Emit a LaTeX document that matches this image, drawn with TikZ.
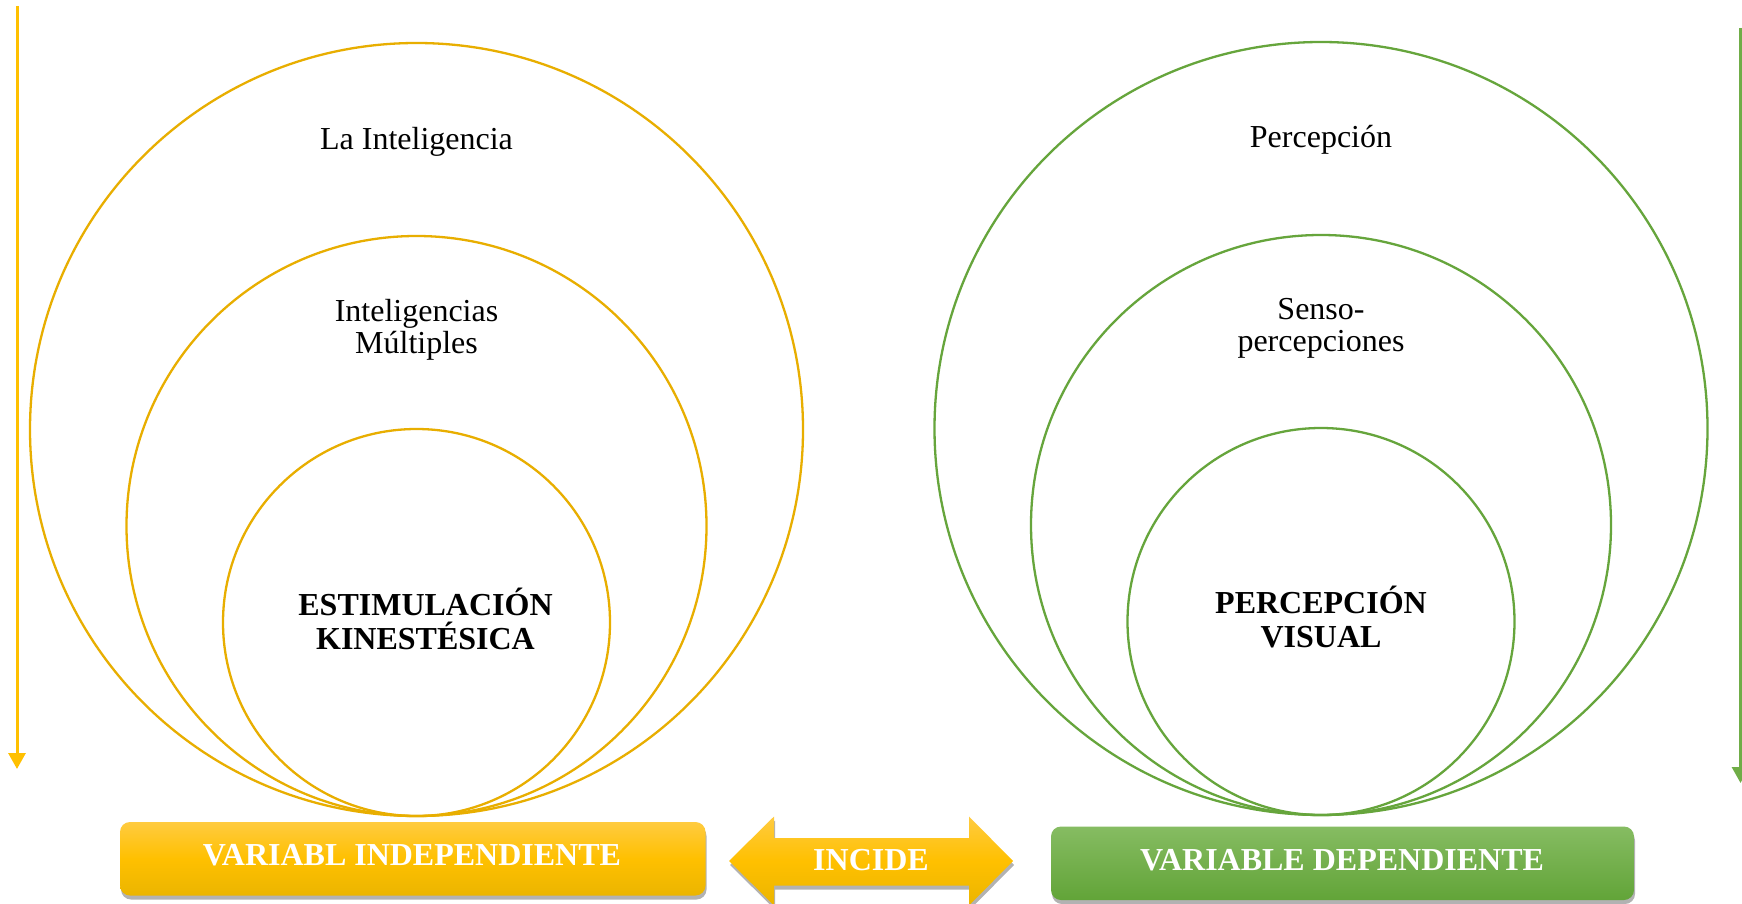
\documentclass[tikz,border=0pt]{standalone}
\usepackage{fontspec}
\setmainfont{Liberation Serif}
\usetikzlibrary{arrows.meta,shadows}
\definecolor{goldline}{HTML}{E8AE00}
\definecolor{greenline}{HTML}{66A53C}
\definecolor{goldarrow}{HTML}{FFC000}
\definecolor{greenarrow}{HTML}{70AD47}
\definecolor{goldtop}{HTML}{FFCB40}
\definecolor{goldmid}{HTML}{FFC000}
\definecolor{goldbot}{HTML}{EBB500}
\definecolor{greentop}{HTML}{86BC62}
\definecolor{greenbot}{HTML}{62A438}
\begin{document}
\begin{tikzpicture}[x=1pt,y=-1pt,
  ring/.style={circle, draw, line width=2.3pt, minimum size=#1, inner sep=0pt},
  lbl/.style={anchor=base, font=\fontsize{32}{33}\selectfont, inner sep=0pt},
  blbl/.style={anchor=base, font=\fontsize{32}{33}\selectfont\bfseries, inner sep=0pt},
  wlbl/.style={anchor=base, font=\fontsize{32}{33}\selectfont\bfseries, text=white, inner sep=0pt},
  shad/.style={drop shadow={opacity=0.3, shadow xshift=1pt, shadow yshift=-4pt, fill=black}},
  side/.style={line width=3pt, -{Triangle[width=17pt,length=16pt]}}
]
\useasboundingbox (0,0) rectangle (1742,904);
\clip (0,0) rectangle (1742,904);
\fill[white] (0,0) rectangle (1742,904);

% side arrows
\coordinate (la1) at (17,6);
\coordinate (la2) at (17,769);
\draw[side, draw=goldarrow, fill=goldarrow] (la1) -- (la2);
\coordinate (ra1) at (1740.5,28);
\coordinate (ra2) at (1740.5,783);
\draw[side, draw=greenarrow, fill=greenarrow] (ra1) -- (ra2);

% left circles
\node[ring=773pt, draw=goldline] (lo) at (416.5,429.5) {};
\node[ring=580pt, draw=goldline] (lm) at (416.5,526) {};
\node[ring=387pt, draw=goldline] (li) at (416.5,622.5) {};
% right circles
\node[ring=773pt, draw=greenline] (ro) at (1321,428.5) {};
\node[ring=580pt, draw=greenline] (rm) at (1321,525) {};
\node[ring=387pt, draw=greenline] (ri) at (1321,621.5) {};

% circle labels
\node[lbl] (t1) at (416.5,150) {La Inteligencia};
\node[lbl] (t2) at (416.5,321) {Inteligencias};
\node[lbl] (t3) at (416.5,353) {Múltiples};
\node[blbl] (t4) at (425.5,615) {ESTIMULACIÓN};
\node[blbl] (t5) at (425.5,649) {KINESTÉSICA};
\node[lbl] (s1) at (1321,148) {Percepción};
\node[lbl] (s2) at (1321,319) {Senso-};
\node[lbl] (s3) at (1321,351) {percepciones};
\node[blbl] (s4) at (1321,613) {PERCEPCIÓN};
\node[blbl] (s5) at (1321,647) {VISUAL};

% bottom boxes
\path[shad, rounded corners=10pt, top color=goldtop, bottom color=goldbot, middle color=goldmid]
  (120,822) rectangle (705.5,895.5);
\node[wlbl] (vi) at (412,865.5) {VARIABL INDEPENDIENTE};

\path[shad, rounded corners=10pt, top color=greentop, bottom color=greenbot]
  (1051,826.5) rectangle (1634,900);
\node[wlbl] (vd) at (1342,870) {VARIABLE DEPENDIENTE};

% double arrow
\path[shad, top color=goldtop, bottom color=goldbot, middle color=goldmid]
  (729,861) -- (774,816.5) -- (774,838) -- (969,838) -- (969,816.5) -- (1013,861)
  -- (969,905.5) -- (969,885.5) -- (774,885.5) -- (774,905.5) -- cycle;
\node[wlbl] (inc) at (871,870) {INCIDE};
\end{tikzpicture}
\end{document}
